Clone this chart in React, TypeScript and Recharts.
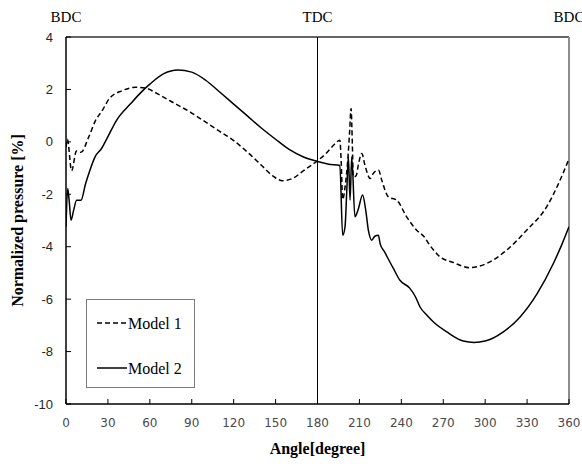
import React from 'react';
import { LineChart, Line, XAxis, YAxis, ReferenceLine, Legend } from 'recharts';

const angleTicks = [0, 30, 60, 90, 120, 150, 180, 210, 240, 270, 300, 330, 360];
const pressureTicks = [-10, -8, -6, -4, -2, 0, 2, 4];
const markerLabels = ['BDC', 'TDC', 'BDC'];
const markerAngles = [0, 180, 360];

const model1Angle = [0, 1, 4, 7.5, 10.7, 16, 21, 26, 31, 40, 50, 57, 65, 75, 90, 100, 110, 120, 130, 140, 148, 155, 162, 170, 180, 186, 192, 196, 197, 198, 200, 201.5, 203, 204, 205, 205.6, 207.6, 209.5, 211.7, 214, 217.7, 220, 223.7, 226, 230.7, 236.7, 243.8, 251, 256, 260.5, 267.7, 277.2, 288.7, 301, 315.4, 329.7, 344, 352, 360];
const model1Value = [-0.2, 0.1, -1.1, -0.35, -0.4, 0.15, 0.8, 1.2, 1.65, 1.95, 2.08, 2.05, 1.85, 1.55, 1.1, 0.75, 0.4, 0.05, -0.4, -0.9, -1.3, -1.48, -1.4, -1.1, -0.72, -0.45, -0.1, 0.06, -0.8, -2.2, -1.6, -0.8, 0.4, 1.27, -0.2, -1.34, -1.3, -0.8, -0.44, -0.9, -1.4, -1.2, -1.08, -1.46, -2.1, -2.22, -2.86, -3.37, -3.6, -3.95, -4.39, -4.6, -4.8, -4.64, -4.13, -3.37, -2.48, -1.65, -0.65];

const model2Angle = [0, 1.2, 2.2, 3.6, 5.5, 7.6, 10.7, 14, 17, 20.8, 25.5, 30, 36.3, 46, 53, 60, 70, 80, 90, 100, 110, 120, 130, 140, 150, 160, 170, 180, 188, 196, 198, 199.7, 201, 202.1, 203.3, 204.5, 206.8, 209, 212.3, 214.5, 216.5, 218.8, 221, 223.6, 224.8, 228, 234.3, 239, 246, 250, 253.4, 258, 263, 272.6, 284.4, 292, 300, 313, 325, 337.2, 348.8, 355, 360];
const model2Value = [-3.24, -1.78, -2.2, -2.99, -2.6, -2.23, -2.23, -1.6, -1.1, -0.57, -0.25, 0.2, 0.83, 1.44, 1.85, 2.2, 2.6, 2.74, 2.66, 2.35, 1.9, 1.44, 0.98, 0.52, 0.1, -0.3, -0.58, -0.75, -0.85, -0.9, -3.56, -3.24, -1.8, -0.57, -2.22, -0.57, -2.86, -2.6, -2.03, -2.6, -3.4, -3.75, -3.6, -3.56, -3.88, -4.2, -4.83, -5.28, -5.58, -5.9, -6.3, -6.6, -6.87, -7.25, -7.6, -7.65, -7.6, -7.25, -6.68, -5.79, -4.64, -3.9, -3.24];

const model1Data = model1Angle.map((deg, i) => ({ deg, v: model1Value[i] }));
const model2Data = model2Angle.map((deg, i) => ({ deg, v: model2Value[i] }));

const SERIF = '"Liberation Serif", "Times New Roman", serif';

const XTick = (props: any) => {
  const { x, y, payload } = props;
  return (
    <g>
      <line x1={x} x2={x} y1={y} y2={y - 5} stroke="#000" strokeWidth={1} />
      <text x={x} y={y + 23} textAnchor="middle" fontFamily='"DejaVu Sans", sans-serif' fontSize={12} fill="#4a4a4a">
        {payload.value}
      </text>
    </g>
  );
};

const YTick = (props: any) => {
  const { x, y, payload } = props;
  return (
    <g>
      <line x1={x} x2={x + 5} y1={y} y2={y} stroke="#000" strokeWidth={1} />
      <text x={x - 13} y={y + 4.5} textAnchor="end" fontFamily='"Liberation Sans", Arial, sans-serif' fontSize={13} fill="#262626">
        {payload.value}
      </text>
    </g>
  );
};

const LegendBox = (props: any) => {
  const { payload } = props;
  return (
    <div style={{ width: 109, height: 89, border: '1px solid #7a7a7a', boxSizing: 'border-box', background: '#fff' }}>
      <svg width={107} height={87}>
        {(payload || []).map((entry: any, i: number) => {
          const cy = 23 + i * 45;
          const dash = entry.payload && entry.payload.strokeDasharray;
          return (
            <g key={i}>
              <line x1={10} x2={40} y1={cy} y2={cy} stroke="#000" strokeWidth={1.5} strokeDasharray={dash} />
              <text x={41} y={cy + 5.5} fontFamily={SERIF} fontSize={16} fill="#000">
                {entry.value}
              </text>
            </g>
          );
        })}
      </svg>
    </div>
  );
};

const YLabel = (props: any) => {
  const vb = props.viewBox || { x: 5, y: 37, height: 367 };
  const cx = vb.x + 17.5;
  const cy = vb.y + vb.height / 2;
  return (
    <text x={cx} y={cy} transform={`rotate(-90, ${cx}, ${cy})`} textAnchor="middle" fontFamily={SERIF} fontWeight="bold" fontSize={16} fill="#000">
      Normalized pressure [%]
    </text>
  );
};

export default function App() {
  return (
    <div style={{ position: 'absolute', left: 0, top: 0, width: 582, height: 464, background: '#fff' }}>
      <LineChart width={582} height={464} margin={{ top: 37, right: 13, bottom: 0, left: 5 }}>
        <XAxis
          dataKey="deg"
          type="number"
          domain={[0, 360]}
          ticks={angleTicks}
          allowDataOverflow
          height={60}
          tickSize={0}
          tickMargin={0}
          tickLine={false}
          axisLine={{ stroke: '#000', strokeWidth: 1.5 }}
          tick={<XTick />}
          interval={0}
          label={{ value: 'Angle[degree]', position: 'insideBottom', offset: 10, fontFamily: SERIF, fontWeight: 'bold', fontSize: 16, fill: '#000' }}
        />
        <YAxis
          type="number"
          domain={[-10, 4]}
          ticks={pressureTicks}
          allowDataOverflow
          width={61}
          tickSize={0}
          tickMargin={0}
          tickLine={false}
          axisLine={{ stroke: '#000', strokeWidth: 1.5 }}
          tick={<YTick />}
          interval={0}
          label={<YLabel />}
        />
        <ReferenceLine y={4} stroke="#333" strokeWidth={1.5} />
        {markerAngles.map((a, i) => (
          <ReferenceLine
            key={i}
            x={a}
            stroke={i === 0 ? 'none' : i === 1 ? '#000' : '#8c8c8c'}
            strokeWidth={i === 2 ? 2 : 1}
            label={{ value: markerLabels[i], position: 'top', offset: 15, fontFamily: SERIF, fontSize: 15, fill: '#000' }}
          />
        ))}
        <Legend layout="vertical" align="center" verticalAlign="middle" content={<LegendBox />} wrapperStyle={{ position: 'absolute', left: 86, top: 299, width: 109, height: 89 }} />
        <Line data={model1Data} dataKey="v" name="Model 1" type="monotone" stroke="#000" strokeWidth={1.5} strokeDasharray="5 3" dot={false} isAnimationActive={false} />
        <Line data={model2Data} dataKey="v" name="Model 2" type="monotone" stroke="#000" strokeWidth={1.5} dot={false} isAnimationActive={false} />
      </LineChart>
    </div>
  );
}
